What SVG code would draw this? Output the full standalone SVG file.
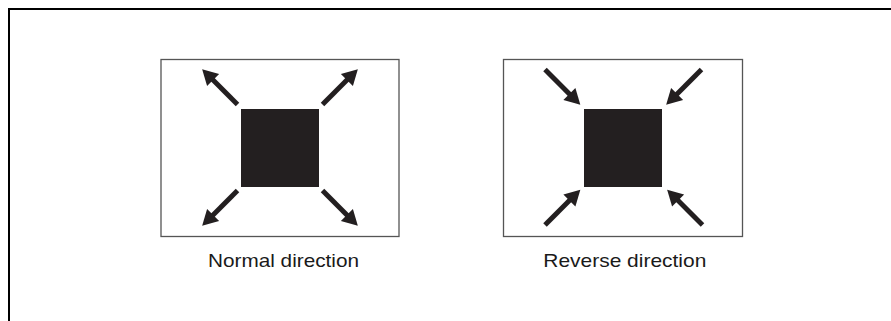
<svg xmlns="http://www.w3.org/2000/svg" xmlns:xlink="http://www.w3.org/1999/xlink" width="891" height="321" viewBox="0 0 891 321">
<style>
.frame{fill:none;stroke:#000;stroke-width:2}
.panel{fill:#fff;stroke:#555;stroke-width:1.3}
.core{fill:#231f20}
.lbl{font-family:"Liberation Sans",Arial,sans-serif;font-size:18.5px;fill:#1a1a1a}
.arr{fill:#231f20}
</style>
<defs>
<g id="arrow">
<rect x="0" y="-2.5" width="37" height="5" class="arr"/>
<polygon points="34.5,-8.5 50,0 34.5,8.5" class="arr"/>
</g>
</defs>
<rect width="891" height="321" fill="#fff"/>
<path class="frame" d="M9,322 V9 H892"/>
<g id="normal">
<rect class="panel" x="161" y="59.5" width="238" height="177"/>
<rect class="core" x="241" y="109" width="78" height="78"/>
<text class="lbl" x="208" y="266.7" textLength="151" lengthAdjust="spacingAndGlyphs">Normal direction</text>
</g>
<g id="reverse">
<rect class="panel" x="503.5" y="59.5" width="239" height="177"/>
<rect class="core" x="584" y="109" width="78" height="78"/>
<text class="lbl" x="543.3" y="266.7" textLength="163" lengthAdjust="spacingAndGlyphs">Reverse direction</text>
</g>
<g id="connectors">
<use xlink:href="#arrow" transform="translate(237.5,104.5) rotate(-135)"/>
<use xlink:href="#arrow" transform="translate(322.5,104.5) rotate(-45)"/>
<use xlink:href="#arrow" transform="translate(237.5,190.5) rotate(135)"/>
<use xlink:href="#arrow" transform="translate(322.5,190.5) rotate(45)"/>
<use xlink:href="#arrow" transform="translate(545,69.5) rotate(45)"/>
<use xlink:href="#arrow" transform="translate(701.5,69.5) rotate(135)"/>
<use xlink:href="#arrow" transform="translate(545,225) rotate(-45)"/>
<use xlink:href="#arrow" transform="translate(702.5,225) rotate(-135)"/>
</g>
</svg>
